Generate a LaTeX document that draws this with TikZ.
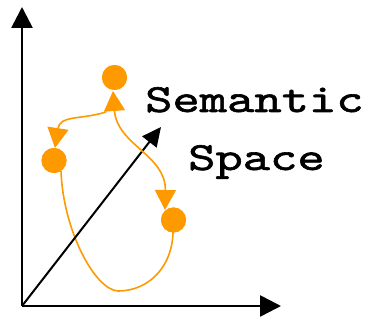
\documentclass[tikz,border=0pt]{standalone}
\usepackage{fontspec}
\usetikzlibrary{arrows.meta}
\newfontfamily\semfont{lmmono10-regular.otf}[FakeStretch=1.3,FakeBold=1.5]
\definecolor{dotorange}{RGB}{255,153,0}
\begin{document}
\begin{tikzpicture}[x=1pt,y=1pt,
  axis/.style={line width=2.6pt,-{Triangle[length=21pt,width=21pt]}},
  diag/.style={line width=2pt,-{Triangle[length=19pt,width=18pt]}},
  dotnode/.style={circle,fill=dotorange,inner sep=0pt,minimum size=25pt},
  flow/.style={dotorange,line width=1.6pt},
  otip/.tip={Triangle[length=20pt,width=21pt]},
  lbl/.style={font=\fontsize{40}{40}\semfont,anchor=base west,inner sep=0pt}]
\useasboundingbox (0,0) rectangle (371,320);
\coordinate (O) at (22,14);
\coordinate (Ytip) at (22,313);
\coordinate (Xtip) at (281,14);
\coordinate (Dtip) at (161,193);
\draw[axis] (O) -- (Ytip);
\draw[axis] (O) -- (Xtip);
\node[dotnode] (T) at (114.5,242.5) {};
\node[dotnode] (L) at (54,159.5) {};
\node[dotnode] (R) at (173.5,100) {};
\coordinate (Ttip) at (113,229);
\coordinate (Ltip) at (55,172);
\coordinate (Rtip) at (165,110);
\coordinate (Lbot) at (61,149);
\coordinate (Rbot) at (173,89);
\coordinate (Bot) at (118,29);
\coordinate (Lstart) at (106,208);
\draw[flow] (Lbot) .. controls (63,90) and (95,30) .. (Bot)
  .. controls (150,29) and (173,55) .. (Rbot);
\draw[diag] (O) -- (Dtip);
\draw[flow,-otip] (Lstart) .. controls (80,200) and (60,205) .. (Ltip);
\draw[flow,otip-otip] (Ttip) .. controls (117,175) and (166,165) .. (Rtip);
\node[dotnode] at (T) {};
\node[dotnode] at (L) {};
\node[dotnode] at (R) {};
\node[lbl] (sem) at (145,208) {Semantic};
\node[lbl] (spa) at (188,150) {Space};
\end{tikzpicture}
\end{document}
